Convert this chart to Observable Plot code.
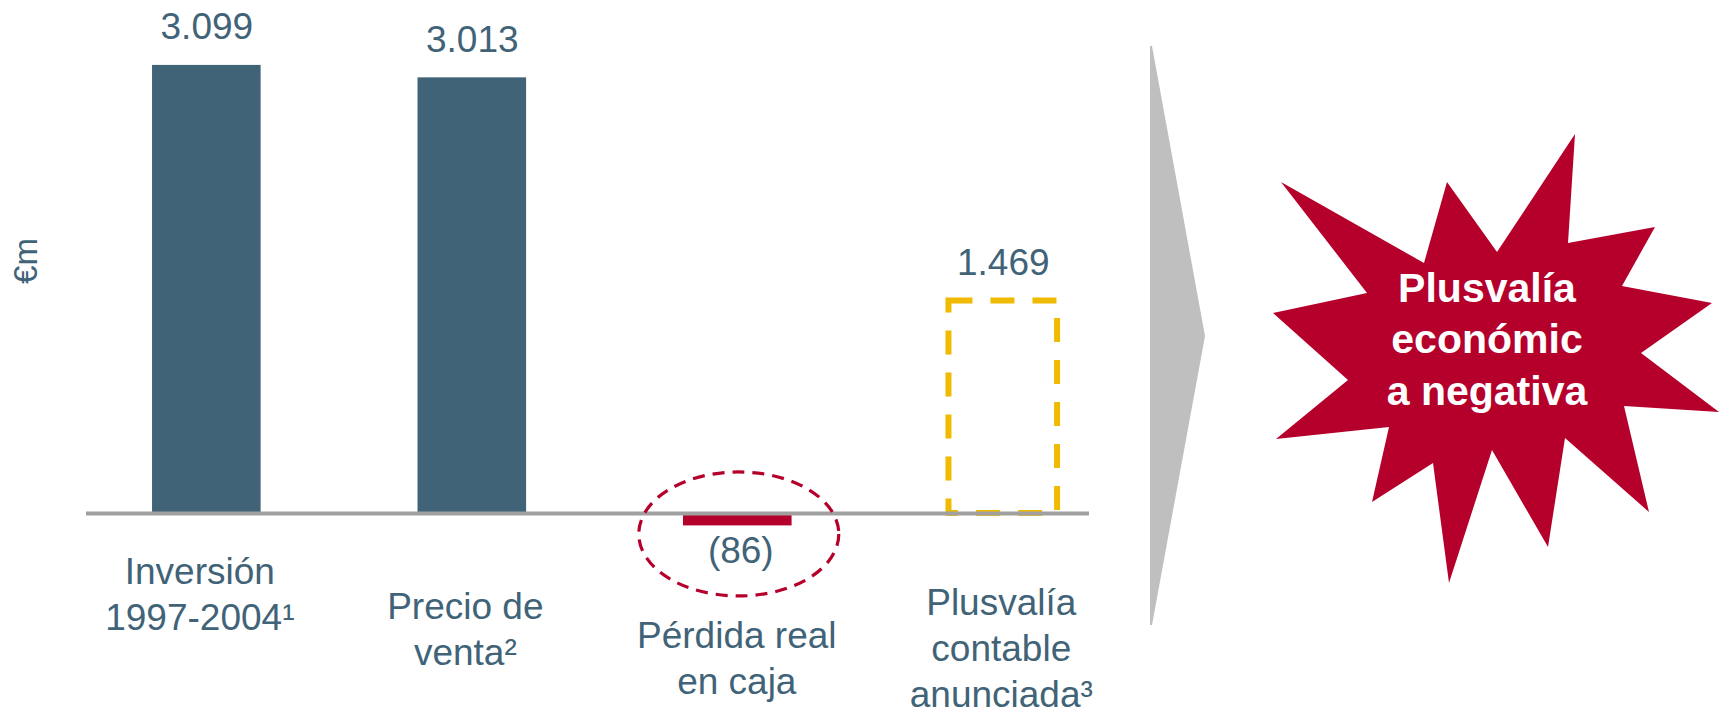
<!DOCTYPE html>
<html><head><meta charset="utf-8">
<script src="https://cdn.jsdelivr.net/npm/d3@7"></script>
<script src="https://cdn.jsdelivr.net/npm/@observablehq/plot@0.6"></script>
<style>
html,body{margin:0;padding:0;background:#fff;}
#chart svg{display:block;}
</style></head><body><div id="chart"></div>
<script>
// ---- data ----
const categories = ["Inversión\n1997-2004¹", "Precio de\nventa²", "Pérdida real\nen caja", "Plusvalía\ncontable\nanunciada³"];
const values = [3099, 3013, -86, 1469];
const valueLabels = ["3.099", "3.013", "(86)", "1.469"];
const unitLabel = "€m";
const calloutLines = ["Plusvalía", "económic", "a negativa"];

const data = categories.map((c, i) => ({cat: c, value: values[i], label: valueLabels[i], i}));

// ---- styles / layout ----
const BLUE = "#416378", RED = "#B5002B", YELLOW = "#F0BA00", GRAY = "#A0A0A0";
const FONT = "'Liberation Sans', Arial, Helvetica, sans-serif";
const FS = 37;
const labelDy = [38, 73, 102, 69];
const labelDx = [-7, -7, -1, -2];

const plot = Plot.plot({
  width: 1725, height: 708,
  marginLeft: 86, marginRight: 636, marginTop: 0, marginBottom: 0,
  style: {fontFamily: FONT, background: "white", overflow: "visible"},
  x: {domain: categories, paddingInner: 0.591, paddingOuter: 0.1845, align: 0.674, axis: null, round: false},
  y: {domain: [-1349, 3548], axis: null},
  color: {type: "identity"},
  marks: [
    Plot.barY(data.filter(d => d.i < 3), {x: "cat", y: "value", fill: d => d.value < 0 ? RED : BLUE, insetLeft: 0, insetRight: 0}),
    Plot.barY(data.filter(d => d.i === 3), {x: "cat", y: "value", fill: "none", stroke: YELLOW, strokeWidth: 6, strokeDasharray: "24 18", insetLeft: 0, insetRight: 0}),
    Plot.ruleY([0], {stroke: GRAY, strokeWidth: 4}),
    Plot.text(data.filter(d => d.value >= 0), {x: "cat", y: "value", text: "label", dy: -26, lineAnchor: "bottom", fill: BLUE, fontSize: FS}),
    Plot.text(data.filter(d => d.value < 0), {x: "cat", y: "value", text: "label", dy: 37.6, dx: 3, lineAnchor: "bottom", fill: BLUE, fontSize: FS}),
    ...data.map((d, i) => Plot.text([d], {x: "cat", y: 0, text: "cat", dy: labelDy[i], dx: labelDx[i], lineAnchor: "top", lineHeight: 1.24, fill: BLUE, fontSize: FS}))
  ]
});

document.getElementById("chart").appendChild(plot);

// ---- annotations ----
const svg = d3.select(plot);
const xs = plot.scale("x"), ys = plot.scale("y");
const cx = xs.apply(categories[2]) + xs.bandwidth / 2 + 1.5;
const cy = ys.apply(0) + 21;
svg.append("ellipse")
  .attr("cx", cx).attr("cy", cy).attr("rx", 100).attr("ry", 62)
  .attr("fill", "none").attr("stroke", RED).attr("stroke-width", 3.2).attr("stroke-dasharray", "12 8");

// unit label
svg.append("text")
  .attr("transform", "translate(37,261) rotate(-90)")
  .attr("text-anchor", "middle")
  .attr("fill", BLUE).attr("font-size", 33).attr("font-family", FONT)
  .text(unitLabel);

// chevron
const chevron = [[1150,46],[1152,46],[1205,336],[1152,625],[1150,625]];
svg.append("polygon").attr("points", chevron.map(p => p.join(",")).join(" ")).attr("fill", "#BFBFBF");

// star
const star = [[1575,134],[1568,243],[1655,227],[1622,286],[1712,303],[1641,353],[1719,412],[1624,406],[1649,512],[1565,438],[1548,547],[1492,450],[1449,583],[1433,463],[1372,502],[1389,427],[1276,439],[1348,380],[1273,313],[1367,293],[1281,182],[1424,263],[1447,182],[1497,252]];
svg.append("polygon").attr("points", star.map(p => p.join(",")).join(" ")).attr("fill", RED);

const baselines = [302, 353, 405];
calloutLines.forEach((t, i) => {
  svg.append("text")
    .attr("x", 1487).attr("y", baselines[i])
    .attr("text-anchor", "middle")
    .attr("fill", "white").attr("font-weight", "bold").attr("font-size", 41).attr("font-family", FONT)
    .text(t);
});
</script>
</body></html>
